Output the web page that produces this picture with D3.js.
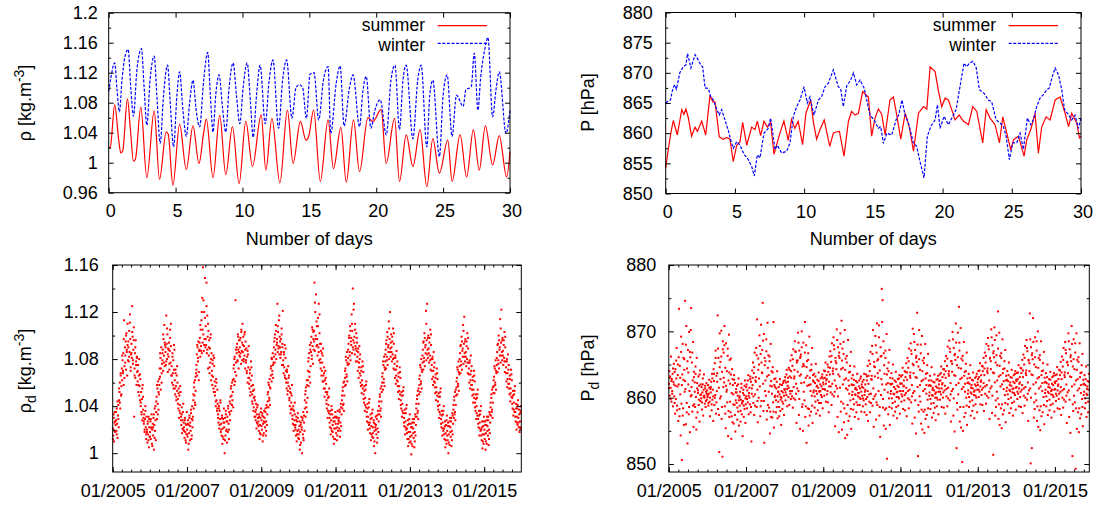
<!DOCTYPE html>
<html><head><meta charset="utf-8">
<script src="https://cdn.jsdelivr.net/npm/d3@7"></script>
<style>
body{margin:0;background:#fff;}
svg{display:block;font-family:"Liberation Sans",Arial,Helvetica,sans-serif;}
</style></head><body>
<svg id="c" width="1096" height="507"></svg>
<script>
// ---------- top panels: 30-day series ----------
const seriesNames = ["summer", "winter"];
const rhoTicks = [0.96, 1, 1.04, 1.08, 1.12, 1.16, 1.2];
const pTicks = [850, 855, 860, 865, 870, 875, 880];
const dayTicks = [0, 5, 10, 15, 20, 25, 30];
const rhoDTicks = [1, 1.04, 1.08, 1.12, 1.16];
const pDTicks = [850, 860, 870, 880];
const yearTicks = [2005, 2007, 2009, 2011, 2013, 2015];

const summerRhoDay = [0,0.12,0.45,0.75,0.9,1.05,1.4,1.62,1.85,2,2.4,2.85,3.4,3.8,4.3,4.45,4.8,5.3,5.8,6.3,6.75,7.1,7.3,7.8,8.3,8.75,9.25,9.75,10.25,10.75,11.4,11.75,12.2,12.8,13.36,13.78,14.33,14.75,14.95,15.32,15.82,16.4,16.8,17.36,17.76,18.3,18.75,19.38,19.75,20.37,20.74,21.37,21.74,22.24,22.74,23.28,23.78,24.23,24.72,25.35,25.67,26.27,26.76,27.26,27.7,28.16,28.7,29.2,29.75,30];
const summerRho = [1.020,1.021,1.077,1.030,1.013,1.016,1.085,1.045,1.002,1.005,1.074,0.980,1.069,0.978,1.041,1.038,0.970,1.051,0.991,1.049,0.999,1.040,1.058,0.980,1.063,0.984,1.048,0.972,1.055,0.995,1.064,0.990,1.059,0.973,1.070,0.999,1.055,1.030,1.035,1.070,0.975,1.057,0.992,1.047,0.974,1.057,0.988,1.060,1.055,1.071,0.999,1.059,0.975,1.037,0.995,1.044,0.968,1.032,0.986,1.030,0.975,1.037,0.981,1.044,0.990,1.049,0.997,1.036,0.981,1.015];

const winterRhoDay = [0,0.15,0.45,0.62,0.8,1,1.2,1.45,1.65,1.85,2.1,2.45,2.65,2.85,3.1,3.4,3.6,3.85,4.1,4.4,4.6,4.85,5.1,5.3,5.55,5.8,6.05,6.3,6.55,6.8,7.1,7.4,7.6,7.8,8,8.25,8.5,8.75,9,9.3,9.55,9.8,10.05,10.35,10.6,10.8,11.05,11.32,11.7,12,12.28,12.7,13,13.3,13.7,14,14.25,14.5,14.78,15.05,15.35,15.7,16.05,16.4,16.6,17,17.3,17.6,18,18.27,18.75,19,19.25,19.6,19.9,20.3,20.75,21.1,21.4,21.74,22,22.24,22.74,23.1,23.36,23.78,24,24.23,24.72,25,25.3,25.67,26,26.5,26.7,27.1,27.33,27.6,27.8,28.1,28.35,28.7,28.95,29.2,29.7,30];
const winterRho = [1.095,1.112,1.133,1.098,1.068,1.112,1.140,1.151,1.100,1.062,1.122,1.152,1.100,1.050,1.112,1.142,1.090,1.026,1.090,1.130,1.080,1.021,1.090,1.121,1.070,1.035,1.080,1.110,1.068,1.048,1.110,1.147,1.090,1.041,1.090,1.117,1.075,1.041,1.100,1.133,1.090,1.052,1.100,1.133,1.080,1.034,1.090,1.130,1.052,1.110,1.137,1.046,1.110,1.137,1.059,1.100,1.104,1.100,1.059,1.118,1.120,1.057,1.110,1.128,1.039,1.105,1.129,1.049,1.100,1.117,1.048,1.095,1.115,1.046,1.070,1.084,1.037,1.110,1.130,1.044,1.110,1.130,1.032,1.110,1.130,1.021,1.090,1.110,1.008,1.090,1.117,1.035,1.090,1.075,1.097,1.101,1.146,1.070,1.112,1.150,1.167,1.061,1.097,1.121,1.039,1.070];

const summerPDay = [0,0.17,0.37,0.55,0.84,1.16,1.32,1.46,1.63,1.87,2.12,2.29,2.6,2.89,3.2,3.4,3.56,3.87,4.16,4.4,4.64,4.88,5.13,5.37,5.56,5.85,6.21,6.45,6.62,6.86,7.1,7.34,7.58,7.82,8.25,8.54,8.85,9.09,9.33,9.57,9.89,10.13,10.47,10.66,10.9,11.15,11.45,11.85,12.11,12.3,12.55,12.88,13.2,13.43,13.68,13.92,14.23,14.4,14.64,14.88,15.12,15.36,15.6,15.85,16.2,16.45,16.69,16.98,17.3,17.6,17.9,18.26,18.62,18.86,19.1,19.46,19.7,19.94,20.18,20.42,20.66,20.9,21.2,21.5,21.87,22.18,22.47,22.9,23.15,23.43,23.79,24.11,24.35,24.64,24.93,25.12,25.48,25.89,26.08,26.37,26.68,26.92,27.16,27.48,27.77,28.13,28.49,28.85,29.1,29.33,29.69,29.89,30];
const summerP = [854.2,857.0,860.0,862.1,859.7,863.9,863.1,864.0,862.6,859.5,861.0,860.3,862.0,859.7,866.3,865.2,865.2,859.4,859.0,859.3,859.0,855.3,858.0,858.6,861.8,858.0,861.0,860.6,862.0,859.6,862.0,861.0,861.8,856.5,860.0,862.0,858.8,862.3,860.8,862.0,858.1,863.3,865.5,862.0,859.0,860.6,862.2,857.8,860.0,860.2,860.3,856.2,862.0,863.6,863.0,863.3,866.9,866.5,866.0,859.5,862.5,864.0,863.2,859.7,865.5,866.0,863.0,859.0,863.3,861.0,857.0,863.3,864.4,864.0,871.0,870.2,867.0,864.4,865.8,865.5,863.9,862.2,863.0,862.0,861.4,864.4,863.6,858.4,863.9,862.5,861.4,858.4,862.7,860.0,857.2,858.9,859.5,856.2,858.9,860.6,863.3,856.7,861.0,862.7,862.2,865.5,866.0,863.3,861.1,863.3,861.7,859.2,859.5];

const winterPDay = [0,0.17,0.34,0.53,0.65,0.77,1.02,1.26,1.46,1.58,1.82,2.12,2.36,2.53,2.67,2.84,3.08,3.25,3.44,3.68,3.87,4.04,4.28,4.52,4.69,4.88,5.13,5.37,5.66,5.97,6.21,6.4,6.62,6.81,7.1,7.41,7.58,7.9,8.06,8.38,8.74,8.98,9.22,9.46,9.7,9.99,10.23,10.42,10.71,11.03,11.27,11.51,11.75,12.11,12.3,12.47,12.64,12.83,13.07,13.36,13.56,13.8,14.04,14.33,14.76,15.05,15.36,15.53,15.73,15.97,16.33,16.64,16.83,17.07,17.29,17.53,17.89,18.13,18.37,18.66,18.9,19.17,19.46,19.63,19.82,20.11,20.42,20.74,20.98,21.22,21.55,21.74,21.94,22.18,22.42,22.66,23,23.31,23.55,23.87,24.15,24.39,24.59,24.83,25.07,25.36,25.6,25.84,26.13,26.37,26.56,26.8,27.04,27.29,27.53,27.72,27.89,28.13,28.37,28.61,28.81,29.02,29.33,29.57,29.81,30];
const winterP = [865.0,865.3,865.5,867.5,868.0,867.3,870.0,871.0,871.3,873.2,870.8,873.0,872.1,871.3,871.0,867.5,867.4,866.1,865.5,864.0,863.0,863.9,862.2,860.5,858.9,857.5,858.6,858.0,856.5,855.6,854.5,852.9,856.4,855.9,860.0,860.8,862.5,857.3,858.0,856.7,857.0,858.4,862.8,864.4,865.5,867.7,865.0,866.0,863.0,865.5,866.1,867.7,868.3,870.5,869.0,867.7,867.3,864.4,867.8,868.8,870.0,868.0,868.8,867.5,863.0,862.2,860.8,861.1,858.3,860.0,859.7,862.2,863.0,865.5,863.0,861.7,858.4,857.8,855.3,852.6,859.5,861.2,862.2,864.7,860.8,862.8,861.4,862.8,863.9,867.2,871.6,871.0,871.6,871.9,871.0,867.2,866.6,865.5,865.2,862.2,861.7,861.1,859.5,855.6,858.4,858.4,860.0,857.3,862.5,861.4,862.2,864.4,865.8,866.4,867.2,867.5,869.1,870.8,869.7,867.2,863.9,863.3,862.2,863.0,860.8,862.5];

// ---------- bottom panels: daily values, arrays per year (A: 8 readings per month, B: 4 more per month) ----------
const rhoD2005 = [1.021,1.015,1.030,1.010,1.026,1.035,1.018,1.024, 1.028,1.019,1.038,1.025,1.013,1.032,1.041,1.022, 1.045,1.052,1.060,1.038,1.066,1.049,1.057,1.072, 1.062,1.079,1.068,1.085,1.058,1.113,1.074,1.090, 1.083,1.095,1.071,1.102,1.088,1.066,1.092,1.079, 1.090,1.078,1.104,1.086,1.118,1.097,1.070,1.084, 1.093,1.081,1.125,1.099,1.076,1.088,1.107,1.031, 1.072,1.085,1.064,1.096,1.078,1.058,1.081,1.069, 1.061,1.075,1.052,1.066,1.080,1.057,1.045,1.063, 1.040,1.052,1.033,1.046,1.028,1.058,1.037,1.030, 1.025,1.033,1.018,1.029,1.040,1.022,1.012,1.031, 1.020,1.009,1.027,1.016,1.031,1.005,1.022,1.014];
const rhoD2006 = [1.018,1.027,1.012,1.022,1.033,1.008,1.020,1.025, 1.015,1.030,1.003,1.024,1.038,1.019,1.028,1.011, 1.035,1.048,1.029,1.055,1.042,1.061,1.037,1.050, 1.058,1.072,1.065,1.081,1.054,1.090,1.068,1.076, 1.079,1.088,1.070,1.097,1.083,1.109,1.074,1.092, 1.086,1.075,1.117,1.093,1.080,1.101,1.069,1.089, 1.082,1.094,1.071,1.087,1.105,1.077,1.091,1.066, 1.074,1.060,1.085,1.068,1.079,1.055,1.071,1.088, 1.062,1.050,1.071,1.057,1.045,1.066,1.053,1.060, 1.046,1.038,1.055,1.030,1.049,1.041,1.034,1.052, 1.031,1.024,1.039,1.017,1.028,1.035,1.020,1.026, 1.022,1.013,1.030,1.018,1.025,1.009,1.016,1.035];
const rhoD2007 = [1.020,1.014,1.028,1.003,1.024,1.017,1.032,1.011, 1.026,1.019,1.034,1.012,1.029,1.040,1.022,1.031, 1.045,1.038,1.056,1.049,1.062,1.041,1.053,1.068, 1.071,1.084,1.066,1.090,1.078,1.095,1.062,1.087, 1.088,1.098,1.082,1.105,1.091,1.113,1.085,1.132, 1.094,1.158,1.101,1.087,1.120,1.097,1.149,1.090, 1.108,1.092,1.145,1.085,1.117,1.099,1.072,1.104, 1.083,1.096,1.068,1.089,1.077,1.101,1.062,1.085, 1.070,1.058,1.079,1.065,1.083,1.052,1.074,1.061, 1.049,1.057,1.040,1.063,1.045,1.036,1.054,1.042, 1.033,1.026,1.040,1.021,1.036,1.029,1.045,1.018, 1.025,1.015,1.032,1.008,1.021,1.029,1.012,1.038];
const rhoD2008 = [1.022,1.000,1.030,1.015,1.036,1.019,1.027,1.009, 1.031,1.018,1.040,1.025,1.012,1.035,1.044,1.028, 1.042,1.055,1.036,1.049,1.060,1.045,1.052,1.039, 1.063,1.075,1.058,1.082,1.069,1.130,1.077,1.066, 1.085,1.093,1.079,1.101,1.088,1.072,1.096,1.083, 1.090,1.082,1.098,1.076,1.105,1.087,1.094,1.110, 1.086,1.099,1.078,1.091,1.083,1.103,1.072,1.095, 1.077,1.089,1.068,1.082,1.060,1.084,1.073,1.091, 1.064,1.055,1.071,1.049,1.062,1.078,1.057,1.066, 1.050,1.042,1.058,1.036,1.047,1.054,1.031,1.045, 1.035,1.028,1.042,1.021,1.033,1.039,1.025,1.030, 1.027,1.019,1.033,1.012,1.024,1.030,1.016,1.038];
const rhoD2009 = [1.028,1.020,1.034,1.010,1.025,1.031,1.017,1.036, 1.030,1.022,1.038,1.015,1.027,1.041,1.024,1.033, 1.044,1.052,1.039,1.058,1.047,1.063,1.041,1.055, 1.066,1.074,1.061,1.080,1.070,1.085,1.064,1.077, 1.082,1.095,1.077,1.101,1.088,1.109,1.080,1.092, 1.094,1.127,1.086,1.103,1.091,1.113,1.084,1.099, 1.090,1.081,1.097,1.086,1.106,1.075,1.093,1.121, 1.079,1.068,1.086,1.073,1.092,1.064,1.081,1.070, 1.063,1.055,1.069,1.050,1.060,1.074,1.057,1.066, 1.047,1.040,1.055,1.034,1.051,1.043,1.038,1.058, 1.032,1.025,1.040,1.019,1.036,1.028,1.043,1.022, 1.024,1.015,1.031,1.010,1.027,1.019,1.034,1.013];
const rhoD2010 = [1.020,1.012,1.027,1.003,1.018,1.024,1.009,1.031, 1.022,1.000,1.030,1.016,1.035,1.011,1.026,1.019, 1.038,1.050,1.031,1.056,1.043,1.062,1.035,1.047, 1.062,1.078,1.057,1.085,1.069,1.092,1.060,1.074, 1.086,1.099,1.080,1.107,1.091,1.076,1.103,1.088, 1.095,1.145,1.087,1.120,1.100,1.135,1.091,1.108, 1.097,1.083,1.115,1.090,1.127,1.079,1.102,1.093, 1.080,1.072,1.093,1.066,1.085,1.077,1.061,1.089, 1.066,1.055,1.073,1.048,1.062,1.070,1.052,1.059, 1.045,1.038,1.052,1.030,1.047,1.041,1.034,1.055, 1.030,1.022,1.036,1.016,1.028,1.040,1.019,1.033, 1.024,1.014,1.030,1.008,1.021,1.027,1.012,1.035];
const rhoD2011 = [1.025,1.017,1.031,1.011,1.022,1.036,1.019,1.028, 1.030,1.021,1.037,1.014,1.026,1.042,1.023,1.033, 1.045,1.038,1.053,1.041,1.060,1.036,1.049,1.057, 1.064,1.072,1.058,1.079,1.067,1.086,1.061,1.075, 1.081,1.093,1.076,1.100,1.086,1.108,1.079,1.095, 1.092,1.118,1.085,1.104,1.140,1.096,1.088,1.127, 1.099,1.084,1.110,1.091,1.078,1.102,1.087,1.094, 1.082,1.070,1.089,1.064,1.077,1.091,1.068,1.084, 1.066,1.057,1.073,1.051,1.062,1.078,1.055,1.069, 1.050,1.043,1.057,1.036,1.047,1.054,1.039,1.061, 1.035,1.027,1.042,1.020,1.031,1.039,1.024,1.046, 1.026,1.017,1.033,1.011,1.023,1.030,1.014,1.037];
const rhoD2012 = [1.022,1.013,1.028,1.006,1.019,1.025,1.000,1.031, 1.024,1.016,1.032,1.009,1.021,1.036,1.018,1.027, 1.040,1.033,1.048,1.036,1.055,1.031,1.044,1.052, 1.060,1.068,1.054,1.075,1.063,1.082,1.057,1.071, 1.078,1.088,1.072,1.096,1.082,1.103,1.075,1.090, 1.086,1.112,1.080,1.097,1.120,1.089,1.082,1.101, 1.090,1.078,1.099,1.084,1.106,1.072,1.093,1.081, 1.076,1.064,1.083,1.059,1.071,1.087,1.062,1.078, 1.061,1.052,1.068,1.046,1.057,1.073,1.050,1.064, 1.045,1.038,1.052,1.031,1.042,1.049,1.034,1.056, 1.030,1.023,1.037,1.016,1.027,1.034,1.020,1.041, 1.021,1.012,1.028,1.006,1.018,1.025,1.009,1.033];
const rhoD2013 = [1.018,1.010,1.025,0.999,1.015,1.022,1.006,1.029, 1.021,1.013,1.029,1.005,1.018,1.033,1.015,1.024, 1.038,1.031,1.046,1.034,1.053,1.029,1.042,1.050, 1.058,1.066,1.052,1.073,1.061,1.080,1.055,1.069, 1.077,1.088,1.071,1.095,1.081,1.102,1.074,1.090, 1.085,1.121,1.079,1.096,1.127,1.088,1.081,1.100, 1.089,1.077,1.098,1.083,1.105,1.071,1.092,1.080, 1.075,1.063,1.082,1.058,1.070,1.086,1.061,1.077, 1.060,1.051,1.067,1.045,1.056,1.072,1.049,1.063, 1.044,1.037,1.051,1.030,1.041,1.048,1.033,1.055, 1.029,1.022,1.036,1.015,1.026,1.033,1.019,1.040, 1.021,1.012,1.027,1.005,1.017,1.024,1.008,1.032];
const rhoD2014 = [1.019,1.011,1.026,1.000,1.016,1.023,1.007,1.030, 1.022,1.014,1.030,1.006,1.019,1.034,1.016,1.025, 1.037,1.030,1.045,1.033,1.052,1.028,1.041,1.049, 1.056,1.064,1.050,1.071,1.059,1.078,1.053,1.067, 1.074,1.085,1.068,1.092,1.078,1.099,1.071,1.087, 1.082,1.109,1.076,1.093,1.116,1.085,1.078,1.097, 1.086,1.074,1.095,1.080,1.102,1.068,1.089,1.077, 1.072,1.060,1.079,1.055,1.067,1.083,1.058,1.074, 1.058,1.049,1.065,1.043,1.054,1.070,1.047,1.061, 1.043,1.036,1.050,1.029,1.040,1.047,1.032,1.054, 1.029,1.022,1.036,1.015,1.026,1.033,1.019,1.040, 1.020,1.011,1.027,1.004,1.016,1.023,1.008,1.031];
const rhoD2015 = [1.020,1.012,1.027,1.003,1.017,1.024,1.008,1.031, 1.023,1.015,1.031,1.007,1.020,1.035,1.017,1.026, 1.039,1.032,1.047,1.035,1.054,1.030,1.043,1.051, 1.057,1.065,1.051,1.072,1.060,1.079,1.054,1.068, 1.075,1.086,1.069,1.093,1.079,1.100,1.072,1.088, 1.083,1.114,1.077,1.094,1.122,1.086,1.079,1.098, 1.087,1.075,1.096,1.081,1.103,1.069,1.090,1.078, 1.073,1.061,1.080,1.056,1.068,1.084,1.059,1.075, 1.059,1.050,1.066,1.044,1.055,1.071,1.048,1.062, 1.047,1.038,1.053,1.032,1.043,1.050,1.035,1.057, 1.035,1.027,1.042,1.020,1.031,1.038,1.024,1.045, 1.030,1.022,1.037,1.018,1.027,1.034,1.021,1.040];

const rhoDb2005 = [1.012,1.033,1.019,1.027, 1.035,1.016,1.044,1.029, 1.055,1.043,1.068,1.050, 1.083,1.070,1.097,1.064, 1.077,1.100,1.086,1.110, 1.095,1.082,1.111,1.073, 1.085,1.103,1.079,1.096, 1.066,1.090,1.075,1.082, 1.070,1.058,1.049,1.067, 1.043,1.035,1.055,1.048, 1.027,1.020,1.036,1.016, 1.018,1.025,1.011,1.029];
const rhoDb2006 = [1.014,1.029,1.021,1.006, 1.022,1.033,1.013,1.040, 1.044,1.058,1.033,1.052, 1.063,1.085,1.072,1.060, 1.085,1.101,1.077,1.094, 1.090,1.078,1.106,1.084, 1.088,1.076,1.098,1.110, 1.066,1.082,1.058,1.092, 1.055,1.068,1.048,1.074, 1.042,1.051,1.036,1.057, 1.028,1.033,1.021,1.042, 1.019,1.028,1.011,1.024];
const rhoDb2007 = [1.016,1.025,1.008,1.030, 1.023,1.037,1.015,1.028, 1.050,1.060,1.043,1.065, 1.075,1.092,1.081,1.069, 1.094,1.109,1.087,1.120, 1.105,1.130,1.092,1.115, 1.097,1.125,1.088,1.110, 1.090,1.073,1.098,1.080, 1.066,1.076,1.055,1.081, 1.052,1.044,1.060,1.038, 1.030,1.038,1.024,1.043, 1.020,1.030,1.014,1.026];
const rhoDb2008 = [1.026,1.011,1.033,1.020, 1.027,1.038,1.020,1.033, 1.048,1.057,1.041,1.062, 1.072,1.080,1.061,1.088, 1.090,1.078,1.099,1.086, 1.096,1.085,1.103,1.079, 1.092,1.080,1.101,1.088, 1.079,1.070,1.087,1.064, 1.059,1.068,1.052,1.073, 1.044,1.053,1.039,1.048, 1.031,1.037,1.026,1.041, 1.023,1.031,1.017,1.035];
const rhoDb2009 = [1.023,1.032,1.015,1.027, 1.026,1.035,1.019,1.039, 1.050,1.060,1.045,1.056, 1.072,1.081,1.067,1.075, 1.090,1.098,1.084,1.104, 1.097,1.108,1.089,1.117, 1.095,1.084,1.101,1.090, 1.075,1.084,1.066,1.089, 1.060,1.071,1.053,1.064, 1.045,1.052,1.037,1.049, 1.029,1.037,1.024,1.033, 1.020,1.028,1.016,1.030];
const rhoDb2010 = [1.016,1.023,1.007,1.026, 1.020,1.028,1.013,1.032, 1.045,1.053,1.039,1.058, 1.070,1.081,1.065,1.088, 1.094,1.083,1.105,1.097, 1.104,1.128,1.097,1.112, 1.092,1.108,1.086,1.118, 1.077,1.087,1.070,1.083, 1.061,1.068,1.055,1.064, 1.042,1.050,1.036,1.048, 1.026,1.033,1.021,1.037, 1.018,1.027,1.012,1.031];
const rhoDb2011 = [1.021,1.030,1.015,1.025, 1.027,1.035,1.019,1.039, 1.049,1.056,1.042,1.061, 1.070,1.082,1.065,1.077, 1.088,1.098,1.083,1.104, 1.098,1.110,1.090,1.122, 1.094,1.105,1.089,1.098, 1.078,1.086,1.073,1.080, 1.060,1.070,1.058,1.074, 1.046,1.053,1.041,1.058, 1.031,1.038,1.026,1.043, 1.021,1.029,1.016,1.034];
const rhoDb2012 = [1.017,1.026,1.010,1.022, 1.020,1.029,1.013,1.033, 1.044,1.050,1.038,1.057, 1.065,1.078,1.060,1.073, 1.084,1.093,1.079,1.099, 1.092,1.106,1.086,1.094, 1.086,1.095,1.080,1.102, 1.071,1.081,1.066,1.074, 1.057,1.065,1.053,1.069, 1.041,1.049,1.036,1.053, 1.026,1.034,1.022,1.038, 1.017,1.024,1.012,1.029];
const rhoDb2013 = [1.014,1.022,1.008,1.026, 1.017,1.026,1.010,1.031, 1.042,1.049,1.036,1.055, 1.063,1.075,1.059,1.071, 1.083,1.094,1.078,1.098, 1.092,1.110,1.084,1.098, 1.085,1.094,1.079,1.101, 1.070,1.080,1.065,1.073, 1.056,1.064,1.052,1.068, 1.040,1.048,1.035,1.052, 1.025,1.032,1.021,1.036, 1.016,1.023,1.011,1.028];
const rhoDb2014 = [1.015,1.023,1.009,1.027, 1.018,1.027,1.011,1.032, 1.041,1.048,1.035,1.054, 1.061,1.073,1.057,1.069, 1.080,1.091,1.075,1.095, 1.089,1.104,1.082,1.095, 1.082,1.091,1.077,1.098, 1.067,1.077,1.062,1.070, 1.054,1.062,1.050,1.066, 1.039,1.046,1.034,1.050, 1.025,1.032,1.021,1.036, 1.015,1.022,1.010,1.027];
const rhoDb2015 = [1.016,1.024,1.010,1.028, 1.019,1.028,1.012,1.033, 1.043,1.050,1.037,1.056, 1.062,1.074,1.058,1.070, 1.081,1.092,1.076,1.096, 1.090,1.106,1.083,1.096, 1.083,1.092,1.078,1.099, 1.068,1.078,1.063,1.071, 1.055,1.063,1.051,1.067, 1.042,1.049,1.037,1.053, 1.031,1.038,1.026,1.041, 1.026,1.033,1.022,1.036];

const pD2005 = [862.1,864.0,860.3,863.2,861.5,866.2,859.4,862.8, 861.0,863.6,858.7,862.4,865.1,860.2,863.9,857.6, 864.3,859.8,862.9,867.5,858.1,861.7,865.0,856.5, 862.0,873.4,857.2,864.8,860.5,854.3,866.9,859.1, 850.6,863.5,868.1,858.4,862.7,855.9,865.8,860.9, 874.6,861.3,856.0,870.8,859.2,864.4,853.1,867.2, 863.8,857.5,869.9,861.0,854.8,866.1,860.2,873.5, 860.4,865.3,857.9,862.6,868.4,855.6,863.1,859.0, 862.3,858.6,864.7,860.1,855.2,866.0,861.4,857.8, 860.7,863.2,858.9,861.8,856.4,864.1,859.5,862.0, 859.9,861.6,858.2,860.8,862.9,857.3,860.2,863.5, 860.3,859.1,861.4,858.6,860.9,862.2,859.7,861.1];
const pD2006 = [860.1,861.9,858.8,860.6,862.7,859.4,857.2,861.3, 860.8,862.4,858.1,863.6,859.7,861.2,856.5,864.3, 862.5,858.9,865.2,860.4,867.1,857.6,863.3,861.0, 863.7,872.4,858.3,866.0,861.5,851.8,869.7,859.9, 865.4,860.2,870.1,856.8,863.9,851.1,867.3,861.6, 866.8,862.3,870.8,858.7,864.5,855.4,868.2,860.9, 864.0,859.3,867.4,854.2,862.6,869.5,857.1,865.7, 862.1,857.8,865.9,853.8,860.7,864.3,856.3,861.9, 860.5,856.1,863.4,858.9,862.2,854.9,859.6,861.3, 859.2,861.8,856.7,860.3,857.9,862.9,855.8,860.0, 858.8,860.9,856.4,859.7,862.1,857.5,859.3,854.2, 859.5,861.2,857.1,860.4,858.3,862.6,856.2,859.0];
const pD2007 = [860.2,862.0,858.4,861.1,859.3,863.4,857.5,860.7, 861.5,859.0,863.2,857.8,862.4,853.4,860.6,864.1, 861.9,865.3,859.2,863.7,857.4,866.8,860.5,862.6, 863.1,867.5,858.6,871.8,861.2,856.3,865.9,860.0, 865.0,869.4,861.7,857.2,866.6,871.0,859.5,863.8, 867.2,874.3,862.1,858.0,869.6,853.2,864.9,861.0, 865.5,860.3,868.8,856.7,863.2,871.3,858.9,866.4, 863.4,858.5,866.2,854.6,861.8,868.1,857.1,864.0, 861.7,857.0,864.6,859.3,871.4,855.5,862.8,860.1, 860.3,862.9,857.8,861.4,858.6,864.0,856.9,860.9, 859.4,861.6,857.2,860.5,862.8,858.0,860.1,855.9, 860.0,861.9,858.3,860.8,859.1,862.5,857.4,861.3];
const pD2008 = [861.2,863.1,859.6,862.3,860.4,864.2,858.7,861.8, 862.4,860.1,864.5,858.9,863.2,861.0,865.6,859.8, 863.0,866.4,860.2,864.8,858.5,867.3,861.6,862.9, 864.2,868.5,859.7,866.9,862.1,856.2,865.3,861.4, 865.6,869.8,861.0,857.4,867.1,863.3,855.3,866.2, 866.5,862.2,870.0,858.6,864.7,855.0,868.3,860.9, 864.8,859.6,871.4,857.1,863.0,867.9,853.2,865.5, 863.3,858.4,866.7,855.8,861.9,869.2,857.3,864.1, 862.0,857.9,865.0,860.3,867.5,856.2,863.4,860.8, 861.1,863.6,858.5,862.2,859.4,865.1,857.6,861.7, 860.6,862.7,858.1,861.5,863.8,859.2,861.0,857.3, 861.0,862.9,859.2,861.7,860.1,863.5,858.4,862.3];
const pD2009 = [862.0,864.1,860.3,863.0,861.2,865.3,859.4,862.6, 862.8,860.5,865.0,859.3,863.9,857.8,861.7,866.2, 863.5,867.0,860.8,865.4,858.9,868.2,862.1,864.0, 864.4,869.1,860.2,867.3,862.6,855.7,866.0,861.8, 865.2,870.3,861.4,857.1,867.6,863.5,854.8,866.8, 866.0,861.5,869.7,857.9,864.3,871.6,855.2,867.4, 864.5,859.1,868.4,856.3,862.7,870.2,853.9,865.9, 862.9,857.6,866.3,854.4,861.2,868.7,856.5,863.8, 861.8,857.2,864.8,859.6,866.9,855.3,862.9,860.4, 860.9,863.4,858.2,861.9,859.0,864.7,857.1,861.3, 860.4,862.5,857.8,861.2,863.6,858.9,860.7,856.8, 860.7,862.6,858.9,861.4,859.8,863.2,857.9,862.0];
const pD2010 = [860.3,862.4,858.7,861.5,859.6,863.6,857.8,860.9, 861.2,859.0,863.5,857.4,862.6,860.1,864.8,856.5, 862.1,865.6,859.4,864.0,857.8,866.9,860.6,862.8, 863.3,867.8,858.8,870.2,861.4,855.6,865.4,860.2, 864.6,869.3,860.5,856.7,866.8,871.2,858.9,863.7, 865.8,861.0,870.9,857.3,864.1,854.1,867.6,860.4, 866.3,876.4,862.0,874.7,858.5,868.5,855.8,864.9, 863.6,858.2,867.1,855.3,862.0,869.6,850.8,864.4, 862.2,857.5,865.3,859.9,867.2,855.9,863.0,860.6, 861.0,863.7,858.4,862.1,859.2,865.0,857.3,861.6, 860.5,862.6,857.9,861.3,863.9,858.6,860.8,856.9, 860.9,862.8,858.8,861.6,859.9,863.4,857.6,862.1];
const pD2011 = [861.0,863.2,859.4,862.1,860.2,864.5,858.3,861.7, 861.8,859.6,864.0,858.1,863.1,860.7,865.2,857.2, 862.7,866.0,859.9,864.5,858.4,867.4,861.2,863.3, 863.8,868.2,859.3,866.6,861.9,856.1,870.4,860.7, 864.9,869.6,861.0,857.0,867.2,863.1,854.6,866.3, 865.4,872.8,861.6,851.2,864.7,857.9,870.2,860.2, 864.2,859.4,868.0,856.1,862.5,869.3,855.2,865.6, 862.7,857.9,866.0,854.7,861.3,868.1,856.8,863.6, 861.9,857.4,864.9,859.7,866.6,855.6,862.6,860.3, 860.8,863.3,858.3,861.8,859.1,864.6,857.0,861.2, 860.3,862.4,857.7,861.1,863.5,858.5,860.6,856.6, 860.8,862.7,858.7,861.5,859.7,863.3,857.5,862.0];
const pD2012 = [861.4,863.5,859.7,862.6,860.5,864.7,858.6,862.0, 862.2,860.0,864.3,858.5,863.5,861.1,865.5,857.6, 863.0,866.3,860.2,864.8,858.7,867.7,861.5,863.6, 864.0,868.6,859.6,866.9,862.2,856.4,865.5,861.0, 865.1,869.9,861.3,857.3,867.5,863.4,854.9,866.6, 865.7,871.2,861.9,852.4,864.9,858.2,869.8,860.5, 864.5,873.7,868.3,856.4,862.8,870.5,855.5,865.9, 863.0,850.3,866.3,855.0,861.6,868.4,857.1,863.9, 862.1,857.7,865.1,860.0,866.8,855.9,862.9,860.6, 861.1,863.6,858.6,862.1,859.4,864.9,857.3,861.5, 860.6,862.7,858.0,861.4,863.8,858.8,860.9,856.9, 861.1,863.0,859.0,861.8,860.0,863.6,857.8,862.3];
const pD2013 = [861.9,864.0,860.1,863.1,860.9,865.2,859.0,862.4, 862.6,860.4,864.8,858.9,864.0,861.5,866.0,858.0, 863.4,866.8,860.6,865.3,859.1,868.1,861.9,864.0, 864.4,869.0,860.0,867.3,862.6,856.8,866.0,861.4, 865.5,870.3,861.7,857.7,867.9,863.8,851.4,867.0, 866.1,870.6,862.3,857.3,865.3,858.6,869.4,860.9, 864.9,859.9,873.0,856.8,863.2,869.8,855.9,866.3, 863.4,858.4,866.7,855.4,862.0,868.8,857.5,864.3, 862.5,858.1,865.5,860.4,867.2,856.3,863.3,861.0, 861.5,864.0,859.0,862.5,859.8,865.3,857.7,861.9, 861.0,863.1,858.4,861.8,864.2,859.2,861.3,857.3, 861.4,863.4,859.4,862.2,860.4,864.0,858.2,862.7];
const pD2014 = [861.6,863.7,859.8,862.8,860.6,864.9,858.7,862.1, 862.3,860.1,864.5,858.6,863.7,861.2,865.7,857.7, 863.1,866.5,860.3,865.0,858.8,867.8,861.6,863.7, 864.1,868.7,859.7,867.0,862.3,856.5,865.7,861.1, 865.2,872.7,861.4,850.1,867.6,863.5,852.4,866.7, 865.8,872.0,862.0,857.0,865.0,858.3,869.1,860.6, 864.6,859.6,868.5,856.5,862.9,870.0,855.6,866.0, 863.1,858.1,866.4,855.1,861.7,868.5,857.2,864.0, 862.2,857.8,865.2,860.1,866.9,856.0,863.0,860.7, 861.2,863.7,858.7,862.2,859.5,865.0,857.4,861.6, 860.7,862.8,858.1,861.5,863.9,858.9,861.0,857.0, 861.2,863.1,859.1,861.9,860.1,863.7,857.9,862.4];
const pD2015 = [861.3,863.4,859.5,862.5,860.3,864.6,858.4,861.8, 862.0,859.8,864.2,858.3,863.4,860.9,865.4,857.4, 862.8,866.2,860.0,864.7,858.5,867.5,861.3,863.4, 863.8,868.4,859.4,866.7,862.0,856.2,865.4,860.8, 864.9,869.7,861.1,857.1,867.3,863.2,854.7,866.4, 865.5,870.8,861.7,851.2,864.7,858.0,868.8,860.3, 864.3,859.3,868.2,849.3,862.6,869.7,855.3,865.7, 862.8,857.8,866.1,854.8,861.4,868.2,856.9,863.7, 861.9,857.5,864.9,859.8,866.6,855.7,862.7,860.4, 860.9,863.4,858.4,861.9,859.2,864.7,857.1,861.3, 860.4,862.5,857.8,861.2,863.6,858.6,860.7,856.7, 860.9,862.8,858.8,861.6,859.8,863.4,857.6,862.1];

const pDb2005 = [861.4,863.0,859.8,862.5, 860.6,864.4,862.0,859.2, 861.8,865.6,858.8,863.4, 866.1,858.3,863.0,869.2, 861.9,857.3,866.0,864.2, 862.5,868.0,857.8,865.5, 862.0,858.6,866.9,870.2, 861.6,866.8,858.8,863.9, 860.9,863.6,857.0,862.2, 861.1,859.7,863.5,860.4, 860.5,859.3,862.0,861.2, 860.0,861.8,859.5,860.6];
const pDb2006 = [860.4,859.2,861.5,860.0, 861.6,859.0,862.9,860.2, 863.6,860.0,866.0,859.3, 862.4,867.4,857.4,864.6, 862.8,866.2,858.6,868.5, 863.0,867.9,857.6,861.8, 861.2,866.3,858.0,863.8, 859.4,863.5,857.2,862.8, 859.0,862.7,857.4,860.8, 860.8,858.5,862.0,859.6, 860.2,858.0,861.5,859.1, 860.7,858.8,861.8,859.9];
const pDb2007 = [861.6,859.8,862.6,860.3, 860.0,862.8,858.6,861.4, 863.0,860.2,864.6,858.8, 862.4,866.4,859.5,864.2, 862.9,867.8,858.7,865.3, 863.7,868.6,859.5,866.0, 862.6,867.0,858.0,864.5, 860.9,865.5,857.9,862.5, 860.6,863.8,857.9,861.9, 861.6,859.6,862.4,860.2, 860.9,858.6,862.0,859.7, 861.0,859.4,862.2,860.3];
const pDb2008 = [862.6,860.8,863.5,861.3, 863.0,861.5,864.2,860.6, 864.0,861.0,865.8,859.9, 863.2,867.0,860.6,865.6, 863.9,868.3,859.8,866.0, 863.5,867.6,859.0,865.1, 862.3,866.8,858.7,864.6, 861.8,865.7,858.3,863.0, 861.0,864.2,858.8,862.6, 862.4,860.2,863.2,861.0, 861.8,859.6,862.5,860.9, 862.0,860.4,863.1,861.3];
const pDb2009 = [862.9,861.3,864.0,862.1, 863.4,861.0,864.6,862.4, 864.5,861.7,866.3,860.5, 863.6,867.9,860.9,865.5, 864.3,868.7,860.2,866.3, 863.2,868.1,859.4,865.6, 862.0,866.6,858.4,864.2, 861.4,865.3,858.9,862.6, 860.6,863.9,858.3,862.0, 861.9,859.8,862.7,860.5, 861.5,859.3,862.3,860.2, 861.7,860.0,862.9,860.9];
const pDb2010 = [861.6,859.9,862.7,860.4, 862.0,859.8,863.2,861.0, 863.3,860.5,865.1,859.2, 862.7,866.6,859.8,864.7, 863.2,867.9,859.3,865.6, 863.0,869.1,858.6,866.2, 862.8,871.4,859.8,866.7, 861.2,866.0,858.4,863.5, 860.8,864.0,858.6,862.1, 862.0,859.9,862.9,860.6, 861.6,859.4,862.4,860.1, 861.8,860.1,862.9,861.0];
const pDb2011 = [862.2,860.5,863.4,861.0, 862.6,860.4,863.9,861.5, 863.8,861.0,865.5,859.7, 863.0,867.1,860.2,865.1, 863.7,868.4,859.6,866.0, 863.0,868.0,858.9,865.8, 861.9,866.7,858.2,864.0, 861.0,865.2,858.2,862.9, 860.6,863.7,858.4,861.8, 861.9,859.8,862.6,860.4, 861.5,859.2,862.3,860.0, 861.7,860.0,862.8,860.9];
const pDb2012 = [862.5,860.9,863.7,861.4, 863.1,860.8,864.3,861.8, 864.0,861.3,865.9,859.9, 863.3,867.4,860.5,865.5, 863.9,868.8,859.9,866.4, 863.3,868.3,859.2,866.1, 862.2,867.1,858.6,864.4, 861.3,865.6,858.6,863.3, 860.9,864.0,858.8,862.2, 862.3,860.1,863.0,860.8, 861.9,859.6,862.6,860.4, 862.0,860.3,863.2,861.2];
const pDb2013 = [862.8,861.2,864.1,861.7, 863.4,861.2,864.7,862.2, 864.4,861.7,866.3,860.3, 863.7,867.8,860.9,865.9, 864.3,869.1,860.3,866.7, 863.7,868.7,859.6,866.4, 862.6,867.4,859.0,864.8, 861.7,866.0,859.0,863.7, 861.3,864.4,859.2,862.6, 862.7,860.5,863.4,861.2, 862.3,860.0,863.0,860.8, 862.4,860.7,863.6,861.5];
const pDb2014 = [862.5,860.9,863.8,861.4, 863.1,860.9,864.4,861.9, 864.1,861.4,866.0,860.0, 863.4,867.5,860.6,865.6, 864.0,868.8,860.0,866.4, 863.4,868.4,859.3,866.1, 862.3,867.1,858.7,864.5, 861.4,865.7,858.7,863.4, 861.0,864.1,858.9,862.3, 862.4,860.2,863.1,860.9, 862.0,859.7,862.7,860.5, 862.1,860.4,863.3,861.2];
const pDb2015 = [862.2,860.6,863.5,861.1, 862.8,860.6,864.1,861.6, 863.8,861.1,865.7,859.7, 863.1,867.2,860.3,865.3, 863.7,868.5,859.7,866.1, 863.1,868.1,859.0,865.8, 862.0,866.8,858.4,864.2, 861.1,865.4,858.4,863.1, 860.7,863.8,858.6,862.0, 862.1,859.9,862.8,860.6, 861.7,859.4,862.4,860.2, 861.8,860.1,863.0,861.0];

const rhoDYears = [rhoD2005,rhoD2006,rhoD2007,rhoD2008,rhoD2009,rhoD2010,rhoD2011,rhoD2012,rhoD2013,rhoD2014,rhoD2015];
const rhoDbYears = [rhoDb2005,rhoDb2006,rhoDb2007,rhoDb2008,rhoDb2009,rhoDb2010,rhoDb2011,rhoDb2012,rhoDb2013,rhoDb2014,rhoDb2015];
const pDYears = [pD2005,pD2006,pD2007,pD2008,pD2009,pD2010,pD2011,pD2012,pD2013,pD2014,pD2015];
const pDbYears = [pDb2005,pDb2006,pDb2007,pDb2008,pDb2009,pDb2010,pDb2011,pDb2012,pDb2013,pDb2014,pDb2015];
const firstYear = 2005;

// ---------- drawing ----------
const svg = d3.select("#c");
const FS = 18;
const RED = "#ff0000", BLUE = "#0000ff";

function toPoints(years, phase) {
  const pts = [];
  years.forEach((arr, k) => {
    const y0 = new Date(firstYear + k, 0, 1), y1 = new Date(firstYear + k + 1, 0, 1);
    const span = y1 - y0;
    arr.forEach((v, i) => pts.push({d: new Date(+y0 + (i + phase) * span / arr.length), v}));
  });
  return pts;
}

function styleAxis(g) {
  g.select(".domain").remove();
  g.selectAll(".tick line").attr("stroke", "#000").attr("stroke-width", 1);
  g.selectAll(".tick text").attr("fill", "#000").style("font-size", FS + "px")
    .style("font-family", '"Liberation Sans",Arial,sans-serif');
}

function frame(g, x, y, o) {
  const [xl, xr] = x.range(), [yb, yt] = y.range();
  if (o.yMinor) {
    g.append("g").attr("transform", `translate(${xl},0)`).call(d3.axisLeft(y).tickValues(o.yMinor).tickFormat("").tickSizeInner(-2.5).tickSizeOuter(0)).call(styleAxis);
    g.append("g").attr("transform", `translate(${xr},0)`).call(d3.axisRight(y).tickValues(o.yMinor).tickFormat("").tickSizeInner(-2.5).tickSizeOuter(0)).call(styleAxis);
  }
  if (o.xMinor) {
    g.append("g").attr("transform", `translate(0,${yb})`).call(d3.axisBottom(x).tickValues(o.xMinor).tickFormat("").tickSizeInner(-2.5).tickSizeOuter(0)).call(styleAxis);
    g.append("g").attr("transform", `translate(0,${yt})`).call(d3.axisTop(x).tickValues(o.xMinor).tickFormat("").tickSizeInner(-2.5).tickSizeOuter(0)).call(styleAxis);
  }
  g.append("g").attr("transform", `translate(${xl},0)`)
    .call(d3.axisLeft(y).tickValues(o.yTicks).tickFormat(o.yFmt).tickSizeInner(-5).tickSizeOuter(0).tickPadding(o.yPad)).call(styleAxis);
  g.append("g").attr("transform", `translate(${xr},0)`)
    .call(d3.axisRight(y).tickValues(o.yTicks).tickFormat("").tickSizeInner(-5).tickSizeOuter(0)).call(styleAxis);
  const bx = g.append("g").attr("transform", `translate(0,${yb})`)
    .call(d3.axisBottom(x).tickValues(o.xTicks).tickFormat(o.xFmt).tickSizeInner(-5).tickSizeOuter(0).tickPadding(o.xPad)).call(styleAxis);
  if (o.xDx) bx.selectAll(".tick text").attr("dx", o.xDx);
  g.append("g").attr("transform", `translate(0,${yt})`)
    .call(d3.axisTop(x).tickValues(o.xTicks).tickFormat("").tickSizeInner(-5).tickSizeOuter(0)).call(styleAxis);
  g.append("rect").attr("x", xl).attr("y", yt).attr("width", xr - xl).attr("height", yb - yt)
    .attr("fill", "none").attr("stroke", "#000").attr("stroke-width", 1);
}

function yLabel(g, x, y, main, sub, sup) {
  const t = g.append("text").attr("transform", `translate(${x},${y}) rotate(-90)`)
    .attr("text-anchor", "middle").style("font-size", FS + "px").attr("fill", "#000");
  t.append("tspan").text(main[0]);
  if (sub) { t.append("tspan").attr("dy", 5).style("font-size", "14px").text(sub); t.append("tspan").attr("dy", -5).text(main[1]); }
  else t.append("tspan").text(main[1]);
  if (sup) { t.append("tspan").attr("dy", -7).style("font-size", "14px").text(sup); t.append("tspan").attr("dy", 7).text("]"); }
}

function legend(g, xr) {
  seriesNames.forEach((n, i) => {
    const by = 31.2 + i * 19.6;
    g.append("text").attr("x", xr - 85).attr("y", by).attr("text-anchor", "end")
      .style("font-size", "17.5px").attr("fill", "#000").text(n);
    g.append("line").attr("x1", xr - 72.3).attr("x2", xr - 23).attr("y1", 25.7 + i * 17.6).attr("y2", 25.7 + i * 17.6)
      .attr("stroke", i ? BLUE : RED).attr("stroke-width", 1.2).attr("stroke-dasharray", i ? "3,1.6" : null);
  });
}

function linePanel(o) {
  const g = svg.append("g");
  const x = d3.scaleLinear().domain([0, 30]).range([o.l, o.r]);
  const y = d3.scaleLinear().domain(o.yDom).range([o.b, o.t]);
  const mk = (days, vals) => days.map((d, i) => [d, vals[i]]);
  const line = d3.line().x(d => x(d[0])).y(d => y(d[1])).curve(o.curve);
  g.append("path").datum(mk(o.sDay, o.sVal)).attr("d", line).attr("fill", "none").attr("stroke", RED).attr("stroke-width", 1.2);
  g.append("path").datum(mk(o.wDay, o.wVal)).attr("d", line).attr("fill", "none").attr("stroke", BLUE).attr("stroke-width", 1.2).attr("stroke-dasharray", "3,1.6");
  const minor = o.yTicks.slice(0, -1).map((v, i) => (v + o.yTicks[i + 1]) / 2);
  frame(g, x, y, {yTicks: o.yTicks, yMinor: minor, yFmt: o.yFmt, yPad: o.yPad, xTicks: dayTicks, xFmt: d3.format("d"), xPad: 12, xDx: 1.5});
  legend(g, o.r);
  g.append("text").attr("x", (o.l + o.r) / 2).attr("y", 244.5).attr("text-anchor", "middle")
    .style("font-size", FS + "px").attr("fill", "#000").text("Number of days");
  yLabel(g, o.labX, o.labY, o.lab, null, o.sup);
}

linePanel({l: 108.7, r: 510, t: 12.7, b: 192.7, yDom: [0.96, 1.2], yTicks: rhoTicks, yFmt: d3.format("~g"), yPad: 11,
  sDay: summerRhoDay, sVal: summerRho, wDay: winterRhoDay, wVal: winterRho, curve: d3.curveMonotoneX,
  labX: 31, labY: 103, lab: ["ρ [kg.m", ""], sup: "-3"});
linePanel({l: 665.7, r: 1081, t: 12.5, b: 193.5, yDom: [850, 880], yTicks: pTicks, yFmt: d3.format("d"), yPad: 13,
  sDay: summerPDay, sVal: summerP, wDay: winterPDay, wVal: winterP, curve: d3.curveLinear,
  labX: 594, labY: 102.5, lab: ["P [hPa]", ""], sup: null});

function scatterPanel(o) {
  const g = svg.append("g");
  const x = d3.scaleTime().domain(o.xDom).range([o.l, o.r]);
  const y = d3.scaleLinear().domain(o.yDom).range([o.b, o.t]);
  const pts = toPoints(o.years, 0.5).concat(toPoints(o.yearsB, 0.25))
    .filter(p => p.d >= o.xDom[0] && p.d <= o.xDom[1] && p.v >= o.yDom[0] && p.v <= o.yDom[1]);
  g.append("g").selectAll("rect").data(pts).join("rect")
    .attr("x", p => x(p.d) - 1).attr("y", p => y(p.v) - 1).attr("width", 2).attr("height", 2).attr("fill", RED);
  const minor = [];
  for (let i = 0; i < o.yTicks.length - 1; i++) minor.push((o.yTicks[i] + o.yTicks[i + 1]) / 2);
  frame(g, x, y, {yTicks: o.yTicks, yMinor: minor, yFmt: o.yFmt, yPad: o.yPad,
    xTicks: yearTicks.map(yr => new Date(yr, 0, 1)), xFmt: d3.timeFormat("%m/%Y"), xPad: 12.5,
    xMinor: d3.timeMonth.every(3).range(o.xDom[0], o.xDom[1])});
  yLabel(g, o.labX, o.labY, o.lab, "d", o.sup);
}

scatterPanel({l: 112.7, r: 521.3, t: 265, b: 472, xDom: [new Date(2005, 0, 1), new Date(2016, 0, 1)], yDom: [0.984, 1.16],
  yTicks: rhoDTicks, yFmt: d3.format("~g"), yPad: 14, years: rhoDYears, yearsB: rhoDbYears, labX: 31, labY: 371, lab: ["ρ", " [kg.m"], sup: "-3"});
scatterPanel({l: 668.8, r: 1089.3, t: 265, b: 472, xDom: [new Date(2005, 0, 1), new Date(2015, 10, 22)], yDom: [848.8, 880],
  yTicks: pDTicks, yFmt: d3.format("d"), yPad: 12.5, years: pDYears, yearsB: pDbYears, labX: 594, labY: 368, lab: ["P", " [hPa]"], sup: null});
</script></body></html>
